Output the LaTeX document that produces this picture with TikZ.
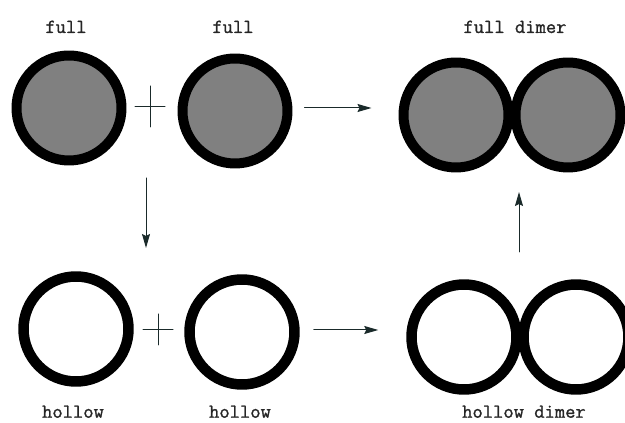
\documentclass[tikz,border=0pt]{standalone}
\usepackage{fontspec}
\newfontfamily\disklabelfont{Latin Modern Mono}[FakeBold=1.2]
\usepackage{tikz}
\usetikzlibrary{arrows.meta,calc,positioning}
\definecolor{diskgray}{HTML}{808080}
\definecolor{diskline}{HTML}{000000}
\definecolor{flowline}{HTML}{1A2A2A}
\tikzset{
every picture/.style={line cap=round,line join=round},
full disk/.style={
  circle,
  draw=diskline,
  fill=diskgray,
  line width=10pt,
  minimum size=105pt,
  inner sep=0pt
},
hollow disk/.style={full disk, fill=white, line width=10.5pt},
fig flow/.style={
  draw=flowline,
  -{Stealth[length=14pt,width=8pt,inset=2pt]},
  line width=1pt
},
plus line/.style={draw=flowline, line width=1pt},
fig label/.style={font=\disklabelfont\fontsize{20pt}{24pt}\selectfont, text=black!85, inner sep=0pt, anchor=base}
}

\begin{document}
\begin{tikzpicture}[x=1pt,y=1pt]
\useasboundingbox (0,0) rectangle (625,423);
% full monomers and dimer
\node[full disk] (f1) at (69,315) {};
\node[full disk] (f2) at (235,312) {};
\node[full disk] (d1) at (456,308) {};
\node[full disk] (d2) at (568,308) {};
\coordinate (dj) at ($(d1)!0.5!(d2)$);
% hollow monomers and dimer
\node[hollow disk] (h1) at (76,94) {};
\node[hollow disk] (h2) at (242,91) {};
\node[hollow disk] (hd1) at (464,86) {};
\node[hollow disk] (hd2) at (576,86) {};
\coordinate (hj) at ($(hd1)!0.5!(hd2)$);
% plus signs
\coordinate (p1) at (150,316);
\coordinate (p2) at (158,93);
\draw[plus line] ([xshift=-15pt]p1) -- ([xshift=15pt]p1);
\draw[plus line] ([yshift=-20pt]p1) -- ([yshift=21pt]p1);
\draw[plus line] ([xshift=-15pt]p2) -- ([xshift=15pt]p2);
\draw[plus line] ([yshift=-15pt]p2) -- ([yshift=16pt]p2);
% labels
\node[fig label] (lf1) at ([xshift=-3pt,yshift=17.5pt]f1.north) {full};
\node[fig label] (lf2) at ([xshift=-2pt,yshift=20.5pt]f2.north) {full};
\node[fig label] (ld) at ([xshift=3pt,yshift=24.5pt]dj |- d1.north) {full dimer};
\node[fig label] (lh1) at ([xshift=-3pt,yshift=-31pt]h1.south) {hollow};
\node[fig label] (lh2) at ([xshift=-2pt,yshift=-28pt]h2.south) {hollow};
\node[fig label] (lhd) at ([xshift=4pt,yshift=-23pt]hj |- hd1.south) {hollow dimer};
% arrows
\draw[fig flow] ($(f2.east)+(12pt,3pt)$) -- ($(d1.west |- f2.east)+(-27pt,3pt)$);
\draw[fig flow] ($(h2.east)+(14pt,2pt)$) -- ($(hd1.west |- h2.east)+(-28pt,2pt)$);
\draw[fig flow] ([xshift=-4pt,yshift=-71pt]p1) -- ([xshift=-4pt,yshift=-141pt]p1);
\draw[fig flow] ([xshift=-1pt,yshift=85pt]hj) -- ([xshift=-1pt,yshift=145pt]hj);
\end{tikzpicture}
\end{document}
